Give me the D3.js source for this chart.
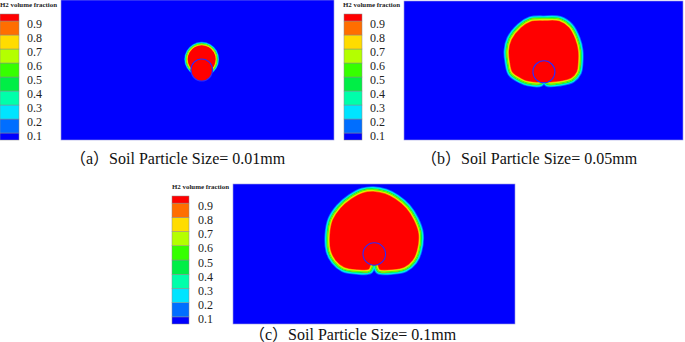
<!DOCTYPE html>
<html><head><meta charset="utf-8">
<script src="https://cdn.jsdelivr.net/npm/d3@7"></script>
<style>html,body{margin:0;padding:0;background:#fff;overflow:hidden}
text{font-family:"Liberation Serif","Times New Roman","Noto Sans CJK SC",serif}</style>
</head><body><svg id="chart" width="685" height="342"></svg>
<script>
// ---------- data ----------
const legendTitle = "H2 volume fraction";
const legendTicks = [0.1, 0.2, 0.3, 0.4, 0.5, 0.6, 0.7, 0.8, 0.9];
const legendTickLabels = ["0.1", "0.2", "0.3", "0.4", "0.5", "0.6", "0.7", "0.8", "0.9"];
const bandEdges = [0, 0.1, 0.2, 0.3, 0.4, 0.5, 0.6, 0.7, 0.8, 0.9, 1.0];
const bandColors = ["#0000ff", "#006eff", "#00e4ff", "#00ffaa", "#00ee46", "#36ff00", "#b4ff00", "#ffdc00", "#ff6e00", "#ff0000"];
const panelLetters = ["a", "b", "c"];
const particleSizes = ["0.01mm", "0.05mm", "0.1mm"];
// particle (soil pore) centre [x, y] and radius, domain units (x -100..100, y 0..100)
const particleCenters = [[3.1, 50], [0.3, 49.1], [0.2, 50]];
const particleRadii = [7.9, 7.9, 8.0];
// H2 plume boundary (mid of the transition band), domain units
const plumeA = [[3.1, 68.7], [8.8, 67.2], [12.9, 63.2], [14.4, 57.6], [12.9, 52.1], [8.8, 48.1], [3.1, 46.6],
  [-2.6, 48.1], [-6.7, 52.1], [-8.3, 57.6], [-6.7, 63.2], [-2.6, 67.2]];
const plumeB = [[0.4, 87.5], [11.8, 87.1], [19.4, 82.1], [24.4, 72.9], [26.5, 64.3], [26.5, 55.7], [25.4, 48.6],
  [20.8, 43.2], [11.8, 40.7], [2.5, 40.4], [0.4, 43.5], [-1.9, 40.4], [-11.2, 40.7], [-16.1, 42.5], [-23.7, 47.9],
  [-25.8, 55.7], [-26.5, 64.3], [-24.4, 72.9], [-17.2, 82.1], [-9.7, 86.8]];
const plumeC = [[-0.5, 96.3], [8.5, 94.6], [16.2, 90.6], [24.1, 83.8], [29.8, 74.9], [33.2, 64.8], [32.1, 52.1],
  [28.7, 44.5], [22.3, 39.1], [13.5, 37.3], [3.0, 37.7], [0.2, 43.6], [-2.8, 37.7], [-12.3, 37.3], [-22.0, 39.1],
  [-28.5, 44.5], [-32.3, 52.1], [-33.0, 63.6], [-30.8, 74.9], [-25.0, 83.8], [-17.0, 90.7], [-8.3, 95.3]];
const plumes = [plumeA, plumeB, plumeC];

// ---------- layout ----------
const layout = [
  {x0: 61, x1: 334, y0: 0, y1: 140, lx: 0, lw: 19, ly0: 14, ly1: 140, tickX: 27, titleX: 0, titleY: 7, capX: 70, capY: 164, band: 0.65},
  {x0: 404, x1: 683, y0: 1, y1: 140, lx: 344, lw: 18, ly0: 14, ly1: 140, tickX: 370, titleX: 343, titleY: 7, capX: 421, capY: 164, band: 1.0},
  {x0: 233, x1: 515, y0: 184, y1: 324, lx: 172, lw: 17, ly0: 196, ly1: 324, tickX: 198, titleX: 172, titleY: 189, capX: 249, capY: 340, band: 1.0}
];
const svg = d3.select("#chart");
const defs = svg.append("defs");
defs.append("filter").attr("id", "soft").attr("x", "-10%").attr("y", "-10%").attr("width", "120%").attr("height", "120%")
  .append("feGaussianBlur").attr("stdDeviation", 0.55);

// outer band offsets (outside the boundary) and inner band offsets (inside), px
const outerBands = [[1, 3.0], [2, 2.2], [3, 1.5], [4, 0.8]];
const innerBands = [[8, 2.5], [7, 1.9], [6, 1.3], [5, 0.7]];

layout.forEach((L, i) => {
  const g = svg.append("g");
  const xs = d3.scaleLinear().domain([-100, 100]).range([L.x0, L.x1]);
  const ys = d3.scaleLinear().domain([0, 100]).range([L.y1, L.y0]);
  const line = d3.line().x(d => xs(d[0])).y(d => ys(d[1])).curve(d3.curveCatmullRomClosed.alpha(0.5));
  const pathD = line(plumes[i]);

  defs.append("clipPath").attr("id", "dom" + i).append("rect")
    .attr("x", L.x0).attr("y", L.y0).attr("width", L.x1 - L.x0).attr("height", L.y1 - L.y0);
  defs.append("clipPath").attr("id", "in" + i).append("path").attr("d", pathD);
  const m = defs.append("mask").attr("id", "out" + i).attr("maskUnits", "userSpaceOnUse")
    .attr("x", 0).attr("y", 0).attr("width", 685).attr("height", 342);
  m.append("rect").attr("width", 685).attr("height", 342).attr("fill", "#fff");
  m.append("path").attr("d", pathD).attr("fill", "#000");

  // domain background
  g.append("rect").attr("x", L.x0).attr("y", L.y0).attr("width", L.x1 - L.x0).attr("height", L.y1 - L.y0)
    .attr("fill", bandColors[0]).attr("stroke", "#9a9ae0").attr("stroke-width", 0.6);
  const pg = g.append("g").attr("clip-path", `url(#dom${i})`);
  const soft = pg.append("g").attr("filter", "url(#soft)");
  // outside bands
  const og = soft.append("g").attr("mask", `url(#out${i})`);
  outerBands.forEach(([c, w]) => {
    og.append("path").attr("d", pathD).attr("fill", "none").attr("stroke", bandColors[c])
      .attr("stroke-width", 2 * w * L.band).attr("stroke-linejoin", "round");
  });
  // inside: red core plus bands
  const ig = soft.append("g").attr("clip-path", `url(#in${i})`);
  ig.append("path").attr("d", pathD).attr("fill", bandColors[9]);
  innerBands.forEach(([c, w]) => {
    ig.append("path").attr("d", pathD).attr("fill", "none").attr("stroke", bandColors[c])
      .attr("stroke-width", 2 * w * L.band).attr("stroke-linejoin", "round");
  });
  // particle
  const pc = particleCenters[i];
  pg.append("ellipse").attr("cx", xs(pc[0])).attr("cy", ys(pc[1]))
    .attr("rx", xs(particleRadii[i]) - xs(0)).attr("ry", ys(0) - ys(particleRadii[i]))
    .attr("fill", bandColors[9]).attr("stroke", "#2a2aff").attr("stroke-width", 1.1);

  // legend
  const ls = d3.scaleLinear().domain([0.05, 0.95]).range([L.ly1, L.ly0]).clamp(true);
  const lg = g.append("g");
  bandColors.forEach((c, k) => {
    lg.append("rect").attr("x", L.lx).attr("y", ls(bandEdges[k + 1])).attr("width", L.lw)
      .attr("height", ls(bandEdges[k]) - ls(bandEdges[k + 1]))
      .attr("fill", c).attr("stroke", "#8a8a8a").attr("stroke-width", 0.5);
  });
  legendTicks.forEach((v, k) => {
    lg.append("text").attr("x", L.tickX).attr("y", ls(v) + 6.5).text(legendTickLabels[k])
      .style("font-size", "12px").attr("fill", "#222");
  });
  lg.append("text").attr("x", L.titleX).attr("y", L.titleY).text(legendTitle)
    .style("font-weight", "bold").style("font-size", "7px")
    .attr("textLength", 57).attr("lengthAdjust", "spacingAndGlyphs").attr("fill", "#222");

  // caption
  g.append("text").attr("x", L.capX).attr("y", L.capY)
    .text(`（${panelLetters[i]}）Soil Particle Size= ${particleSizes[i]}`)
    .style("font-size", "16px").attr("fill", "#111");
});
</script></body></html>
